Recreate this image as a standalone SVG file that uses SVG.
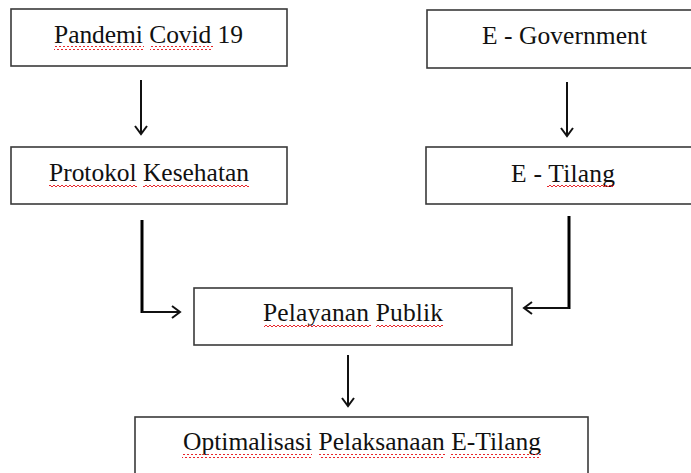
<svg xmlns="http://www.w3.org/2000/svg" width="691" height="473" viewBox="0 0 691 473">
<style>
.box{fill:#fff;stroke:#3a3a3a;stroke-width:1.6}
.t{font-family:"Liberation Serif","Times New Roman",serif;font-size:25.5px;fill:#111}
.ln{fill:none;stroke:#111;stroke-width:2}
.thick{fill:none;stroke:#000;stroke-width:3}
.wave{fill:url(#wv)}
</style>
<defs>
<pattern id="wv" patternUnits="userSpaceOnUse" width="4" height="4" x="0" y="0">
<path d="M0,3 L2,1 L4,3" fill="none" stroke="#e8262b" stroke-width="1"/>
</pattern>
<marker id="ah" markerWidth="12" markerHeight="14" refX="10" refY="7" orient="auto" markerUnits="userSpaceOnUse">
<path d="M2,1 L10,7 L2,13" fill="none" stroke="#111" stroke-width="2"/>
</marker>
</defs>
<g id="connectors">
<line class="ln" x1="141" y1="80" x2="141" y2="134" marker-end="url(#ah)"/>
<line class="ln" x1="567" y1="82" x2="567" y2="136" marker-end="url(#ah)"/>
<line class="thick" x1="142" y1="220" x2="142" y2="313"/>
<line class="ln" x1="142" y1="312" x2="180" y2="312" marker-end="url(#ah)"/>
<line class="thick" x1="569" y1="216" x2="569" y2="309"/>
<line class="ln" x1="569" y1="308" x2="524" y2="308" marker-end="url(#ah)"/>
<line class="ln" x1="348" y1="355" x2="348" y2="406" marker-end="url(#ah)"/>
</g>
<g id="pandemi">
<rect class="box" x="11" y="9" width="276" height="57"/>
<text class="t" x="54" y="43" textLength="189">Pandemi Covid 19</text>
<rect class="wave" x="54" y="46" width="90" height="4"/>
<rect class="wave" x="150" y="46" width="63" height="4"/>
</g>
<g id="protokol">
<rect class="box" x="11" y="147" width="276" height="57"/>
<text class="t" x="49" y="181" textLength="200">Protokol Kesehatan</text>
<rect class="wave" x="49" y="184" width="88" height="4"/>
<rect class="wave" x="143" y="184" width="106" height="4"/>
</g>
<g id="egov">
<rect class="box" x="427" y="10" width="270" height="58"/>
<text class="t" x="482" y="44" textLength="165">E - Government</text>
</g>
<g id="etilang">
<rect class="box" x="426" y="147" width="271" height="57"/>
<text class="t" x="511" y="182" textLength="104">E - Tilang</text>
<rect class="wave" x="547" y="185" width="67" height="4"/>
</g>
<g id="pelayanan">
<rect class="box" x="194" y="288" width="318" height="57"/>
<text class="t" x="263" y="321" textLength="180">Pelayanan Publik</text>
<rect class="wave" x="264" y="324" width="107" height="4"/>
<rect class="wave" x="376" y="324" width="67" height="4"/>
</g>
<g id="optimalisasi">
<rect class="box" x="135" y="417" width="453" height="70"/>
<text class="t" x="183" y="450" textLength="358">Optimalisasi Pelaksanaan E-Tilang</text>
<rect class="wave" x="182" y="454" width="130" height="4"/>
<rect class="wave" x="319" y="454" width="126" height="4"/>
<rect class="wave" x="450" y="454" width="91" height="4"/>
</g>
</svg>
